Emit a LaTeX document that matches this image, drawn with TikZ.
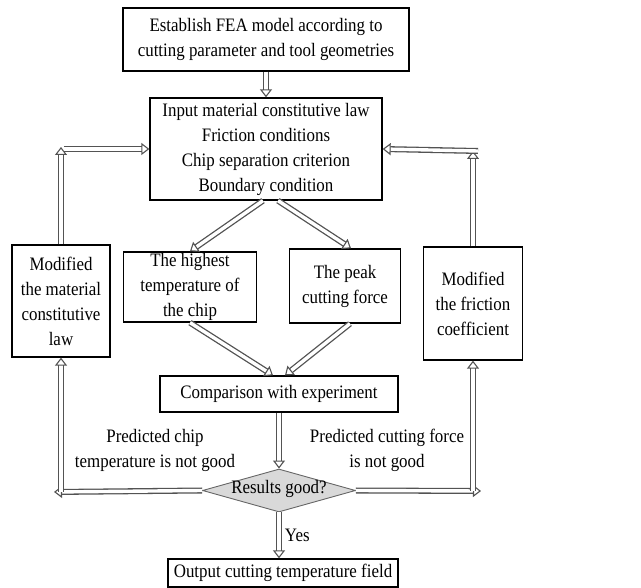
\documentclass[tikz,border=0pt]{standalone}
\usepackage{fontspec}
\setmainfont{Liberation Serif}
\usepackage{tikz}
\usetikzlibrary{arrows.meta,positioning,shapes.geometric,calc}

\begin{document}
\begin{tikzpicture}[
  x=1pt, y=-1pt,
  txt/.style={font=\fontsize{19}{25}\selectfont\addfontfeature{FakeStretch=0.89}, align=center},
  bx/.style={txt, rectangle, draw=black, line width=1.3pt, inner sep=1pt},
  dec/.style={txt, diamond, draw=gray!80!black, fill=gray!30, line width=0.9pt,
              aspect=3.6, inner sep=0pt, text height=11pt, text depth=5pt},
  dbl/.style={draw=gray!65!black, double=white, double distance=3.4pt, line width=1.3pt,
              -{Triangle[open, width=12pt, length=8pt, line width=1.1pt]}}
]
  \useasboundingbox (0,0) rectangle (641,588);

  % boxes
  \node[bx, minimum width=286pt, minimum height=63pt] (model) at (266,39.5)
    {Establish FEA model according to\\cutting parameter and tool geometries};
  \node[bx, minimum width=232pt, minimum height=102pt] (input) at (266,149)
    {Input material constitutive law\\Friction conditions\\Chip separation criterion\\Boundary condition};
  \node[bx, minimum width=98pt, minimum height=112pt] (modl) at (61,301)
    {Modified\\the material\\constitutive\\law};
  \node[bx, minimum width=133pt, minimum height=70pt] (high) at (190,287)
    {The highest\\temperature of\\the chip};
  \node[bx, minimum width=111pt, minimum height=74pt] (peak) at (345,286)
    {The peak\\cutting force};
  \node[bx, minimum width=99pt, minimum height=113pt] (modr) at (473,303.5)
    {Modified\\the friction\\coefficient};
  \node[bx, minimum width=238pt, minimum height=36pt] (comp) at (279,394)
    {Comparison with experiment};
  \node[dec, minimum width=153pt, minimum height=43pt] (good) at (279,490.5)
    {Results good?};
  \node[bx, minimum width=230pt, minimum height=28pt] (out) at (283,573)
    {Output cutting temperature field};

  % labels
  \node[txt] (lbll) at (155,450) {Predicted chip\\temperature is not good};
  \node[txt] (lblr) at (387,450) {Predicted cutting force\\is not good};

  \coordinate (cl) at (54,492);
  \coordinate (cr) at (481,491);

  % arrows
  \draw[dbl] (model.south) -- (input.north);
  \draw[dbl] ([xshift=-3pt]input.south) -- (high.north);
  \draw[dbl] ([xshift=12pt]input.south) -- ([xshift=6pt]peak.north);
  \draw[dbl] (high.south) -- ([xshift=-6pt]comp.north);
  \draw[dbl] ([xshift=5pt]peak.south) -- ([xshift=6pt]comp.north);
  \draw[dbl] (comp.south) -- (good.north);
  \draw[dbl] (good.south) -- node[txt, right=2pt] (yes) {Yes} (good.south |- out.north);

  \draw[dbl] (good.west) -- (cl);
  \draw[dbl] (modl.south |- cl) -- (modl.south);
  \draw[dbl] (modl.north) -- ($(modl.north |- input.west)+(0,-2)$);
  \draw[dbl] ($(modl.north |- input.west)+(3,0)$) -- (input.west);

  \draw[dbl] (good.east) -- (cr);
  \draw[dbl] (modr.south |- cr) -- (modr.south);
  \draw[dbl] (modr.north) -- ($(modr.north |- input.east)+(0,2)$);
  \draw[dbl] ($(modr.north |- input.east)+(5,2)$) -- (input.east);
\end{tikzpicture}
\end{document}
